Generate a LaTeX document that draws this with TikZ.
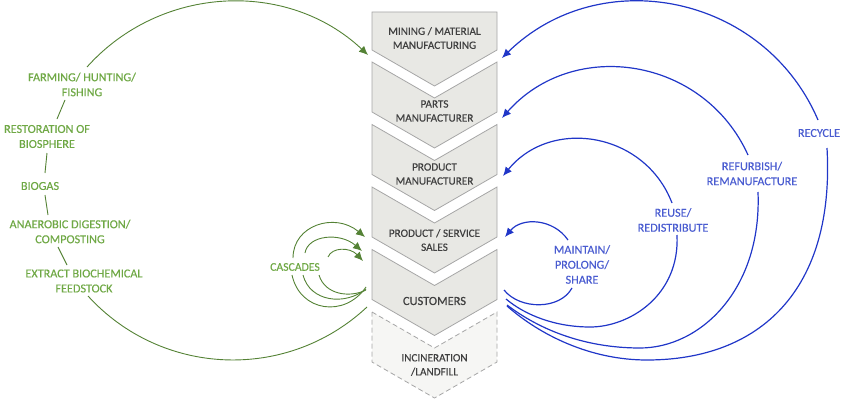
\documentclass[tikz,border=0pt]{standalone}
\usepackage{fontspec}
\setmainfont{Carlito}
\newfontfamily\lblfont{Carlito}[FakeBold=0.35]
\usetikzlibrary{arrows.meta}
\definecolor{chevfill}{HTML}{E8E8E4}
\definecolor{chevdfill}{HTML}{F6F6F4}
\definecolor{chevdraw}{HTML}{A6A6A6}
\definecolor{chevtext}{HTML}{404040}
\definecolor{gline}{HTML}{548235}
\definecolor{gtext}{HTML}{6FA845}
\definecolor{bline}{HTML}{2036C8}
\definecolor{btext}{HTML}{4A5CD0}
\begin{document}
\begin{tikzpicture}[x=1pt,y=-1pt,
  chev/.style={fill=chevfill, draw=chevdraw, line width=0.8pt, line join=miter},
  chevdash/.style={fill=chevdfill, draw=chevdraw, line width=0.8pt, dash pattern=on 5pt off 3pt},
  lbl/.style={font=\lblfont\fontsize{12.2}{15}\selectfont, align=center, inner sep=0pt},
  ctext/.style={lbl, font=\lblfont\fontsize{11.2}{14}\selectfont, text=chevtext},
  gtxt/.style={lbl, text=gtext},
  btxt/.style={lbl, text=btext},
  gcurve/.style={draw=gline, line width=0.9pt},
  bcurve/.style={draw=bline, line width=1.2pt},
  garrow/.style={gcurve, -{Latex[length=9pt,width=8pt]}},
  barrow/.style={bcurve, -{Latex[length=9pt,width=8pt]}}]
\useasboundingbox (0,0) rectangle (841,404);

% chevrons
\path[chev] (372,12) -- (497,12) -- (497,50) -- (434.5,86) -- (372,50) -- cycle;
\foreach \t in {62,124.5,187,249.5}{
  \path[chev] (372,\t) -- (434.5,\t+36) -- (497,\t) -- (497,\t+50) -- (434.5,\t+86) -- (372,\t+50) -- cycle;
}
\path[chevdash] (372,312) -- (434.5,348) -- (497,312) -- (497,362) -- (434.5,398) -- (372,362) -- cycle;

\node[ctext] (mining) at (434.5,38) {MINING / MATERIAL\\MANUFACTURING};
\node[ctext] (parts) at (434.5,111) {PARTS\\MANUFACTURER};
\node[ctext] (prodman) at (434.5,174) {PRODUCT\\MANUFACTURER};
\node[ctext] (sales) at (434.5,240) {PRODUCT / SERVICE\\SALES};
\node[ctext, font=\lblfont\fontsize{12.4}{14}\selectfont] (cust) at (434.5,301) {CUSTOMERS};
\node[ctext] (landfill) at (434.5,365) {INCINERATION\\/LANDFILL};

% green labels
\node[gtxt] (farm) at (82,84.5) {FARMING/ HUNTING/\\FISHING};
\node[gtxt] (resto) at (47,136.5) {RESTORATION OF\\BIOSPHERE};
\node[gtxt] (biogas) at (40,186) {BIOGAS};
\node[gtxt] (anaer) at (70,231.5) {ANAEROBIC DIGESTION/\\COMPOSTING};
\node[gtxt] (extract) at (84,281) {EXTRACT BIOCHEMICAL\\FEEDSTOCK};
\node[gtxt, font=\lblfont\fontsize{11.7}{14}\selectfont] (casc) at (295,267) {CASCADES};

% blue labels
\node[btxt] (recycle) at (819,133) {RECYCLE};
\node[btxt] (refurb) at (752,173.5) {REFURBISH/\\REMANUFACTURE};
\node[btxt] (reuse) at (673,220) {REUSE/\\REDISTRIBUTE};
\node[btxt] (maintain) at (582,264.5) {MAINTAIN/\\PROLONG/\\SHARE};

% endpoints
\coordinate (gA) at (87,67);   \coordinate (gAt) at (368,55);
\coordinate (gB) at (88,296);  \coordinate (gBt) at (367,307);
\coordinate (f1) at (65,100);  \coordinate (r1) at (57,119);
\coordinate (r2) at (47,153);  \coordinate (b1) at (45,173);
\coordinate (b2) at (45,195);  \coordinate (a1) at (48,215);
\coordinate (a2) at (58,247);  \coordinate (e1) at (67,265);

% green big loop
\draw[garrow] (gA) .. controls (160.6,-15.1) and (287.6,-20.6) .. (gAt);
\draw[gcurve] (gB) .. controls (161.7,376.7) and (287,381.8) .. (gBt);
\draw[gcurve] (f1) -- (r1);
\draw[gcurve] (r2) -- (b1);
\draw[gcurve] (b2) -- (a1);
\draw[gcurve] (a2) -- (e1);

% cascades
\coordinate (c1s) at (293,258); \coordinate (c1t) at (365,237);
\coordinate (c2s) at (305,253); \coordinate (c2t) at (362,251);
\coordinate (c3s) at (328,257); \coordinate (c3t) at (363,261);
\coordinate (c1b) at (292,275); \coordinate (c2b) at (303,275); \coordinate (c3b) at (319,275);
\coordinate (cend1) at (366,287); \coordinate (cend2) at (366,289); \coordinate (cend3) at (366,290);
\draw[garrow] (c1s) .. controls (293,225) and (335,212) .. (c1t);
\draw[garrow] (c2s) .. controls (308,235) and (340,232) .. (c2t);
\draw[garrow] (c3s) .. controls (332,247) and (350,247) .. (c3t);
\draw[gcurve] (c1b) .. controls (300,312) and (345,318) .. (cend1);
\draw[gcurve] (c2b) .. controls (310,302) and (345,306) .. (cend2);
\draw[gcurve] (c3b) .. controls (325,295) and (350,298) .. (cend3);

% blue loops
\coordinate (rcU) at (818,120); \coordinate (rcT) at (502,58);
\coordinate (rcL) at (827,148); \coordinate (rcM) at (647,360); \coordinate (rcE) at (507,306);
\coordinate (rfU) at (748,155); \coordinate (rfT) at (502,118);
\coordinate (rfL) at (758,192); \coordinate (rfM) at (640,348); \coordinate (rfE) at (507,305);
\coordinate (ruU) at (672,203); \coordinate (ruT) at (503,176);
\coordinate (ruL) at (677,235); \coordinate (ruM) at (590,327); \coordinate (ruE) at (506,299);
\coordinate (mU) at (568,240);  \coordinate (mT) at (505,237);
\coordinate (mL) at (572,288);  \coordinate (mE) at (504,290);

\draw[barrow] (rcU) .. controls (764,-6) and (600,-38) .. (rcT);
\draw[bcurve] (rcL) .. controls (835,290) and (760,360) .. (rcM) .. controls (590,360) and (540,335) .. (rcE);
\draw[barrow] (rfU) .. controls (703.7,56.9) and (573.2,37.3) .. (rfT);
\draw[bcurve] (rfL) .. controls (762,290) and (700,348) .. (rfM) .. controls (585,348) and (540,330) .. (rfE);
\draw[barrow] (ruU) .. controls (644.8,132) and (551,117.1) .. (ruT);
\draw[bcurve] (ruL) .. controls (680,295) and (630,327) .. (ruM) .. controls (555,327) and (525,315) .. (ruE);
\draw[barrow] (mU) .. controls (553.2,218.4) and (521.8,216.9) .. (mT);
\draw[bcurve] (mL) .. controls (560,310) and (520,310) .. (mE);
\end{tikzpicture}
\end{document}
